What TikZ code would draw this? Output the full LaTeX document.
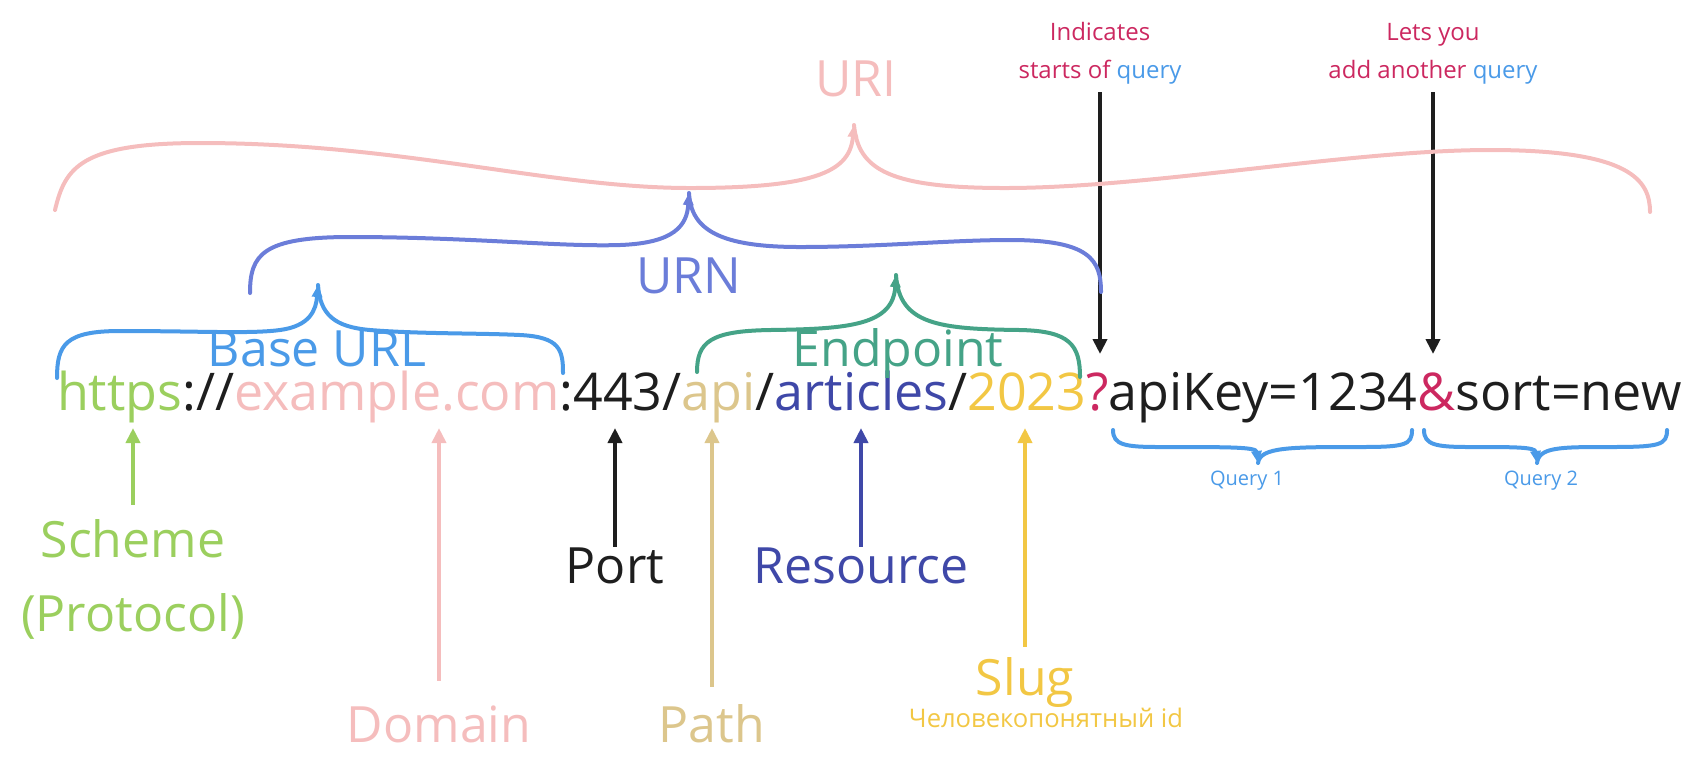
\documentclass[tikz,border=0pt]{standalone}
\usepackage{fontspec}
\setmainfont{Open Sans}
\usepackage{tikz}
\usetikzlibrary{arrows.meta,positioning}

\definecolor{cScheme}{HTML}{9BCF5E}
\definecolor{cDomain}{HTML}{F5BDBD}
\definecolor{cPath}{HTML}{DCC68C}
\definecolor{cRes}{HTML}{3F48A8}
\definecolor{cSlug}{HTML}{F2C744}
\definecolor{cMark}{HTML}{CC2860}
\definecolor{cBase}{HTML}{4A9AE8}
\definecolor{cUrn}{HTML}{6B7DD9}
\definecolor{cEnd}{HTML}{45A387}
\definecolor{cInk}{HTML}{1E1E1E}

\tikzset{ % text and line styles
    part/.style={inner sep=0pt, outer sep=0pt, font=\fontsize{26}{30}\selectfont},
    bigtxt/.style={inner sep=0pt, font=\fontsize{25}{37}\selectfont, align=center},
    smalltxt/.style={inner sep=0pt, font=\fontsize{12}{19}\selectfont, align=center},
    tinytxt/.style={inner sep=0pt, font=\fontsize{10}{12}\selectfont},
    uparrow/.style={line width=2pt, -{Triangle[length=7.5pt,width=7pt]}},
    brace/.style={line width=2pt, line cap=round},
    bracetip/.style={-{Triangle[length=6pt,width=5pt]}}
}

\begin{document}
\begin{tikzpicture}[x=0.5pt, y=-0.5pt, node distance=0pt]
	\useasboundingbox (0,0) rectangle (1706,768);
	\coordinate (uptip) at (0,428);
	\coordinate (downtip) at (0,354);

	%Address
	\node[part, text=cScheme, anchor=base west] (https) at (57,410) {https};
	\node[part, text=cInk, base right=of https]      (sep1)     {://};
	\node[part, text=cDomain, base right=of sep1]    (domain)   {example.com};
	\node[part, text=cInk, base right=of domain]     (port)     {:443/};
	\node[part, text=cPath, base right=of port]      (api)      {api};
	\node[part, text=cInk, base right=of api]        (sep2)     {/};
	\node[part, text=cRes, base right=of sep2]       (articles) {articles};
	\node[part, text=cInk, base right=of articles]   (sep3)     {/};
	\node[part, text=cSlug, base right=of sep3]      (year)     {2023};
	\node[part, text=cMark, base right=of year]      (qmark)    {?};
	\node[part, text=cInk, base right=of qmark]      (query1)   {apiKey=1234};
	\node[part, text=cMark, base right=of query1]    (amp)      {\&};
	\node[part, text=cInk, base right=of amp]        (query2)   {sort=new};

	%Labels below
	\node[bigtxt, text=cScheme, anchor=base] (scheme)  at (133,631)  {Scheme\\(Protocol)};
	\node[bigtxt, text=cDomain, anchor=base] (domlbl)  at (439,742)  {Domain};
	\node[bigtxt, text=cInk, anchor=base]    (portlbl) at (615,583)  {Port};
	\node[bigtxt, text=cPath, anchor=base]   (pathlbl) at (712,742)  {Path};
	\node[bigtxt, text=cRes, anchor=base]    (reslbl)  at (861,583)  {Resource};
	\node[bigtxt, text=cSlug, anchor=base]   (sluglbl) at (1025,695) {Slug};
	\node[smalltxt, text=cSlug, anchor=base] (slugnote) at (1046,727) {\fontsize{12.8}{15}\selectfont Человекопонятный id};

	%Labels above
	\node[bigtxt, text=cDomain, anchor=base] (uri)     at (856,96)  {URI};
	\node[bigtxt, text=cUrn, anchor=base]    (urn)     at (689,293) {URN};
	\node[bigtxt, text=cBase, anchor=base]   (baseurl) at (317,366) {Base URL};
	\node[bigtxt, text=cEnd, anchor=base]    (endpt)   at (898,366) {Endpoint};
	\node[smalltxt, text=cMark, anchor=base] (starts)  at (1100,78) {Indicates\\starts of \textcolor{cBase}{query}};
	\node[smalltxt, text=cMark, anchor=base] (another) at (1433,78) {Lets you\\add another \textcolor{cBase}{query}};
	\node[tinytxt, text=cBase, anchor=base]  (q1lbl)   at (1247,485) {Query 1};
	\node[tinytxt, text=cBase, anchor=base]  (q2lbl)   at (1541,485) {Query 2};

	%Arrows
	\draw[uparrow, cScheme] ([yshift=7pt]scheme.north) -- (scheme.north |- uptip);
	\draw[uparrow, cDomain] ([yshift=12pt]domlbl.north) -- (domlbl.north |- uptip);
	\draw[uparrow, cInk] (portlbl.north) -- (portlbl.north |- uptip);
	\draw[uparrow, cPath] ([yshift=8.5pt]pathlbl.north) -- (pathlbl.north |- uptip);
	\draw[uparrow, cRes] (reslbl.north) -- (reslbl.north |- uptip);
	\draw[uparrow, cSlug] ([yshift=5pt]sluglbl.north) -- (sluglbl.north |- uptip);
	\draw[uparrow, cInk] ([yshift=-4pt]starts.south) -- (starts.south |- downtip);
	\draw[uparrow, cInk] ([yshift=-4pt]another.south) -- (another.south |- downtip);

	%Braces
	\draw[brace, cDomain, bracetip] (55,210) .. controls (65,168) and (80,143) .. (200,143) .. controls (400,143) and (550,188) .. (690,188) .. controls (820,188) and (850,170) .. (854,125);
	\draw[brace, cDomain] (854,125) .. controls (858,170) and (890,188) .. (1005,188) .. controls (1150,188) and (1350,150) .. (1490,150) .. controls (1630,150) and (1650,180) .. (1650,212);
	\draw[brace, cUrn, bracetip] (250,293) .. controls (250,255) and (262,237) .. (350,237) .. controls (470,237) and (560,247) .. (620,245) .. controls (675,243) and (687,225) .. (689,193);
	\draw[brace, cUrn] (689,193) .. controls (691,230) and (720,247) .. (800,247) .. controls (880,247) and (950,240) .. (1010,240) .. controls (1090,240) and (1101,260) .. (1101,292);
	\draw[brace, cBase, bracetip] (57,378) .. controls (57,345) and (65,331) .. (120,331) .. controls (200,331) and (250,334) .. (280,330) .. controls (310,326) and (316,310) .. (318,285);
	\draw[brace, cBase] (318,285) .. controls (320,315) and (335,327) .. (370,330) .. controls (420,334) and (480,333) .. (520,335) .. controls (560,337) and (563,350) .. (563,373);
	\draw[brace, cEnd, bracetip] (697,372) .. controls (697,342) and (710,331) .. (770,330) .. controls (850,329) and (893,325) .. (896,275);
	\draw[brace, cEnd] (896,275) .. controls (899,325) and (940,329) .. (1020,330) .. controls (1070,331) and (1080,345) .. (1080,377);
	\draw[brace, cBase, bracetip] (1113,430) .. controls (1113,445) and (1125,447) .. (1160,447) .. controls (1230,447) and (1256,447) .. (1258,463);
	\draw[brace, cBase] (1258,463) .. controls (1260,447) and (1290,447) .. (1360,447) .. controls (1405,447) and (1412,445) .. (1412,430);
	\draw[brace, cBase, bracetip] (1424,430) .. controls (1424,445) and (1436,447) .. (1470,447) .. controls (1515,447) and (1535,447) .. (1537,463);
	\draw[brace, cBase] (1537,463) .. controls (1539,447) and (1560,447) .. (1610,447) .. controls (1660,447) and (1667,445) .. (1667,430);
\end{tikzpicture}
\end{document}
